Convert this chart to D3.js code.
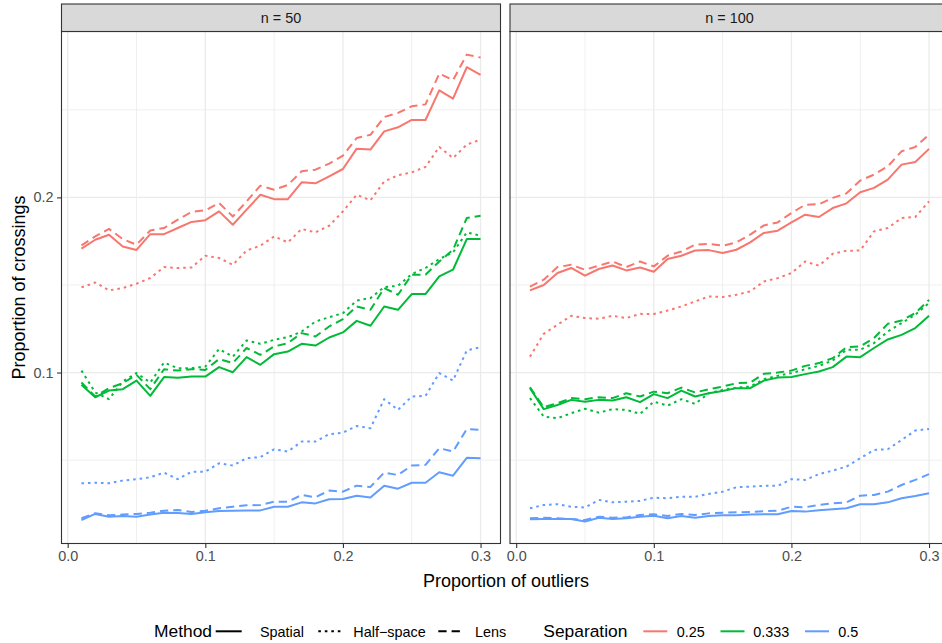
<!DOCTYPE html>
<html>
<head>
<meta charset="utf-8">
<script src="https://cdn.jsdelivr.net/npm/d3@7"></script>
<style>
  html, body { margin: 0; padding: 0; background: #ffffff; }
  svg { display: block; font-family: "Liberation Sans", Arial, Helvetica, sans-serif; }
</style>
</head>
<body>
<svg id="chart" width="942" height="643"></svg>
<script>
// ---------------- DATA ----------------
const proportionOutliers = [0.01,0.02,0.03,0.04,0.05,0.06,0.07,0.08,0.09,0.10,0.11,0.12,0.13,0.14,0.15,0.16,0.17,0.18,0.19,0.20,0.21,0.22,0.23,0.24,0.25,0.26,0.27,0.28,0.29,0.30];
const panels = ["n = 50", "n = 100"];
const methods = ["Spatial", "Half\u2212space", "Lens"];
const separations = ["0.25", "0.333", "0.5"];
const xTicks = [0.0, 0.1, 0.2, 0.3];
const xTickLabels = ["0.0", "0.1", "0.2", "0.3"];
const yTicks = [0.1, 0.2];
const yTickLabels = ["0.1", "0.2"];

// n = 50
const n50_sep025_spatial = [0.1707,0.1758,0.1787,0.172,0.170,0.179,0.179,0.1825,0.186,0.187,0.192,0.1844,0.193,0.2015,0.199,0.199,0.2086,0.208,0.212,0.2162,0.2278,0.2273,0.2377,0.240,0.2442,0.2442,0.2611,0.2564,0.2743,0.270];
const n50_sep025_half    = [0.1486,0.1514,0.1469,0.1482,0.1507,0.154,0.1602,0.1597,0.160,0.1667,0.1654,0.1615,0.1697,0.1724,0.1777,0.1743,0.182,0.180,0.1838,0.192,0.2015,0.1983,0.2091,0.2126,0.2143,0.2174,0.2288,0.2225,0.2301,0.233];
const n50_sep025_lens    = [0.1726,0.1777,0.182,0.1762,0.173,0.1811,0.1825,0.1873,0.1917,0.1926,0.1968,0.1891,0.1977,0.2067,0.2044,0.2071,0.2149,0.2158,0.2193,0.2238,0.2339,0.2357,0.2459,0.2482,0.252,0.2531,0.2707,0.2669,0.2815,0.2798];
const n50_sep0333_spatial = [0.093,0.0859,0.0897,0.0905,0.0954,0.0867,0.0974,0.097,0.0977,0.0977,0.1031,0.1002,0.1088,0.1044,0.1105,0.112,0.1164,0.1154,0.12,0.1229,0.1295,0.1267,0.1377,0.1358,0.1448,0.1448,0.1549,0.1587,0.1762,0.1762];
const n50_sep0333_half    = [0.1011,0.0886,0.0848,0.0949,0.0997,0.0943,0.1057,0.1025,0.1025,0.1034,0.1134,0.1091,0.1183,0.1164,0.1187,0.1202,0.1234,0.1291,0.1316,0.1339,0.1411,0.1425,0.1488,0.1495,0.1562,0.1597,0.1648,0.1686,0.18,0.1781];
const n50_sep0333_lens    = [0.0943,0.0863,0.0911,0.0939,0.0987,0.0905,0.1019,0.1011,0.1019,0.1015,0.1077,0.1054,0.114,0.1101,0.1149,0.1168,0.1225,0.1206,0.1263,0.1305,0.1377,0.1358,0.1482,0.1444,0.1558,0.1558,0.1634,0.1701,0.1882,0.1895];
const n50_sep05_spatial = [0.0158,0.0193,0.0177,0.0181,0.0177,0.0189,0.02,0.0198,0.0193,0.0202,0.021,0.0211,0.0213,0.0213,0.0234,0.0234,0.0259,0.0253,0.0277,0.0278,0.0297,0.0286,0.0354,0.0337,0.0371,0.0371,0.0431,0.0411,0.0513,0.0511];
const n50_sep05_half    = [0.0368,0.0371,0.0368,0.0383,0.0391,0.0402,0.0429,0.0391,0.0434,0.0434,0.0482,0.0469,0.0511,0.0517,0.0562,0.0549,0.0606,0.0606,0.0648,0.0657,0.0695,0.0682,0.0848,0.0787,0.0863,0.0867,0.0997,0.0954,0.1126,0.1145];
const n50_sep05_lens    = [0.0168,0.0197,0.0185,0.0189,0.0193,0.02,0.0211,0.0215,0.0204,0.0211,0.0225,0.0234,0.0242,0.0244,0.0263,0.0263,0.0301,0.0288,0.0326,0.032,0.0354,0.0347,0.0429,0.0415,0.0469,0.0473,0.0568,0.0549,0.0677,0.0673];

// n = 100
const n100_sep025_spatial = [0.1469,0.15,0.1568,0.1597,0.1553,0.1591,0.1611,0.1583,0.16,0.1575,0.1648,0.1667,0.1697,0.1699,0.1682,0.1701,0.1743,0.1797,0.181,0.1857,0.1901,0.1888,0.1939,0.1966,0.2029,0.2054,0.2101,0.2187,0.2202,0.2277];
const n100_sep025_half    = [0.109,0.1221,0.1273,0.1324,0.1311,0.1307,0.1324,0.1311,0.1335,0.1334,0.1354,0.1377,0.1406,0.1434,0.1431,0.1444,0.1463,0.152,0.1539,0.1568,0.1634,0.161,0.1678,0.1695,0.1697,0.1806,0.1825,0.1882,0.1888,0.1977];
const n100_sep025_lens    = [0.1491,0.153,0.1602,0.1615,0.1587,0.161,0.1634,0.1602,0.1634,0.1606,0.1667,0.1691,0.173,0.1735,0.1724,0.1743,0.1787,0.184,0.1857,0.1911,0.1958,0.1961,0.1997,0.2023,0.2096,0.213,0.2177,0.2263,0.2288,0.2358];
const n100_sep0333_spatial = [0.0911,0.0791,0.0815,0.0844,0.0833,0.0844,0.084,0.0859,0.0831,0.0877,0.0854,0.0897,0.0863,0.0882,0.0895,0.0911,0.0911,0.0954,0.0971,0.0974,0.0991,0.1006,0.1031,0.1091,0.1088,0.114,0.1189,0.1215,0.1254,0.1324];
const n100_sep0333_half    = [0.0854,0.0749,0.0739,0.0768,0.0793,0.0771,0.0791,0.0787,0.0764,0.0834,0.0811,0.0848,0.0821,0.0882,0.0901,0.0914,0.092,0.0962,0.0981,0.0997,0.1019,0.1038,0.1069,0.113,0.113,0.1168,0.1234,0.1282,0.133,0.1397];
const n100_sep0333_lens    = [0.0916,0.0802,0.0825,0.0854,0.0848,0.0859,0.0854,0.0882,0.0863,0.0891,0.0882,0.0914,0.0886,0.0905,0.092,0.0939,0.0943,0.0993,0.1,0.1011,0.1038,0.1054,0.1082,0.1145,0.1149,0.1197,0.1278,0.1297,0.1339,0.1415];
const n100_sep05_spatial = [0.0162,0.0164,0.0164,0.0164,0.0149,0.0171,0.0164,0.0168,0.0177,0.0183,0.0168,0.0181,0.0171,0.0181,0.0185,0.0185,0.0189,0.0191,0.0191,0.021,0.0206,0.0214,0.0219,0.0225,0.0248,0.0248,0.0259,0.0282,0.0295,0.0311];
const n100_sep05_half    = [0.0225,0.0244,0.0248,0.0234,0.0229,0.0273,0.0259,0.0263,0.0267,0.0286,0.0282,0.0291,0.0291,0.0307,0.032,0.0345,0.0349,0.0353,0.0353,0.0391,0.0387,0.042,0.044,0.0463,0.0511,0.0558,0.0562,0.0615,0.0669,0.0678];
const n100_sep05_lens    = [0.0168,0.0171,0.0168,0.0164,0.0158,0.0177,0.0171,0.0173,0.0187,0.0191,0.0181,0.0193,0.0187,0.0196,0.02,0.0202,0.0204,0.0208,0.0211,0.0234,0.0231,0.0244,0.0253,0.0259,0.0297,0.0301,0.032,0.0358,0.0387,0.042];

// table built from the arrays: [panel][separation][method]
const seriesTable = [
  [[n50_sep025_spatial, n50_sep025_half, n50_sep025_lens],
   [n50_sep0333_spatial, n50_sep0333_half, n50_sep0333_lens],
   [n50_sep05_spatial, n50_sep05_half, n50_sep05_lens]],
  [[n100_sep025_spatial, n100_sep025_half, n100_sep025_lens],
   [n100_sep0333_spatial, n100_sep0333_half, n100_sep0333_lens],
   [n100_sep05_spatial, n100_sep05_half, n100_sep05_lens]]
];

// ---------------- STYLE / LAYOUT ----------------
const sepColors = ["#F8766D", "#00BA38", "#619CFF"];
const methodDash = ["none", "2.6,3.9", "8.3,5"];
const lineW = 2.0;
const panelTop = 31.5, panelBottom = 543.5;
const panelX = [[61.5, 500.5], [510, 949]];
const stripTop = 4;
const xDomain = [-0.0045, 0.3145];
const yDomain = [0.0024, 0.2947];
const xMinor = [0.05, 0.15, 0.25];
const yMinor = [0.05, 0.15, 0.25];
const tickFont = 14.4, titleFont = 18, legendTitleFont = 17.4, legendLabelFont = 14.4;

const svg = d3.select("#chart");
const y = d3.scaleLinear().domain(yDomain).range([panelBottom, panelTop]);

panels.forEach((pname, pi) => {
  const [x0, x1] = panelX[pi];
  const x = d3.scaleLinear().domain(xDomain).range([x0, x1]);
  const g = svg.append("g");

  g.append("rect").attr("x", x0).attr("y", panelTop).attr("width", x1 - x0).attr("height", panelBottom - panelTop).attr("fill", "#ffffff");

  xMinor.forEach(v => g.append("line").attr("x1", x(v)).attr("x2", x(v)).attr("y1", panelTop).attr("y2", panelBottom)
    .attr("stroke", "#ebebeb").attr("stroke-width", 0.75));
  yMinor.forEach(v => g.append("line").attr("x1", x0).attr("x2", x1).attr("y1", y(v)).attr("y2", y(v))
    .attr("stroke", "#ebebeb").attr("stroke-width", 0.75));
  xTicks.forEach(v => g.append("line").attr("x1", x(v)).attr("x2", x(v)).attr("y1", panelTop).attr("y2", panelBottom)
    .attr("stroke", "#ebebeb").attr("stroke-width", 1.3));
  yTicks.forEach(v => g.append("line").attr("x1", x0).attr("x2", x1).attr("y1", y(v)).attr("y2", y(v))
    .attr("stroke", "#ebebeb").attr("stroke-width", 1.3));

  const line = d3.line().x((d, i) => x(proportionOutliers[i])).y(d => y(d));
  separations.forEach((s, si) => {
    methods.forEach((m, mi) => {
      g.append("path").datum(seriesTable[pi][si][mi])
        .attr("d", line)
        .attr("fill", "none")
        .attr("stroke", sepColors[si])
        .attr("stroke-width", lineW)
        .attr("stroke-dasharray", methodDash[mi])
        .attr("stroke-linejoin", "round");
    });
  });

  g.append("rect").attr("x", x0).attr("y", panelTop).attr("width", x1 - x0).attr("height", panelBottom - panelTop)
    .attr("fill", "none").attr("stroke", "#333333").attr("stroke-width", 1.1);

  g.append("rect").attr("x", x0).attr("y", stripTop).attr("width", x1 - x0).attr("height", panelTop - stripTop)
    .attr("fill", "#d9d9d9").attr("stroke", "#333333").attr("stroke-width", 1.1);
  g.append("text").attr("x", (x0 + x1) / 2).attr("y", (stripTop + panelTop) / 2)
    .attr("text-anchor", "middle").attr("dominant-baseline", "central")
    .attr("font-size", tickFont).attr("fill", "#1a1a1a").text(pname);

  const xAxis = d3.axisBottom(x).tickValues(xTicks).tickFormat((d, i) => xTickLabels[i]).tickSize(4.5).tickPadding(3);
  const ax = g.append("g").attr("transform", `translate(0,${panelBottom})`).call(xAxis);
  ax.select(".domain").remove();
  ax.selectAll(".tick line").attr("stroke", "#333333").attr("stroke-width", 1.1);
  ax.selectAll(".tick text").attr("font-size", tickFont).attr("fill", "#4d4d4d").attr("font-family", "Liberation Sans, Arial, sans-serif");

  if (pi === 0) {
    const yAxis = d3.axisLeft(y).tickValues(yTicks).tickFormat((d, i) => yTickLabels[i]).tickSize(4.5).tickPadding(3.5);
    const ay = g.append("g").attr("transform", `translate(${x0},0)`).call(yAxis);
    ay.select(".domain").remove();
    ay.selectAll(".tick line").attr("stroke", "#333333").attr("stroke-width", 1.1);
    ay.selectAll(".tick text").attr("font-size", tickFont).attr("fill", "#4d4d4d").attr("font-family", "Liberation Sans, Arial, sans-serif");
  }
});

svg.append("text").attr("x", 506).attr("y", 587).attr("text-anchor", "middle")
  .attr("font-size", titleFont).attr("fill", "#000000").text("Proportion of outliers");
svg.append("text").attr("transform", `translate(25,${(panelTop + panelBottom) / 2}) rotate(-90)`)
  .attr("text-anchor", "middle").attr("font-size", titleFont).attr("fill", "#000000").text("Proportion of crossings");

const legY = 631.3;
const legBase = 637.3;
const lg = svg.append("g");
lg.append("text").attr("x", 154).attr("y", legBase).attr("font-size", legendTitleFont).text("Method");
const methodKeyX = [215.7, 318.3, 438.3];
const methodLabelX = [260, 353.3, 475];
methods.forEach((m, i) => {
  lg.append("line").attr("x1", methodKeyX[i]).attr("x2", methodKeyX[i] + 26).attr("y1", legY).attr("y2", legY)
    .attr("stroke", "#000000").attr("stroke-width", lineW).attr("stroke-dasharray", methodDash[i]);
  lg.append("text").attr("x", methodLabelX[i]).attr("y", legBase - 0.5).attr("font-size", legendLabelFont).text(m);
});
lg.append("text").attr("x", 543.3).attr("y", legBase).attr("font-size", legendTitleFont).text("Separation");
const sepKeyX = [643.3, 720.5, 805];
const sepLabelX = [676.7, 753.3, 838.3];
separations.forEach((s, i) => {
  lg.append("line").attr("x1", sepKeyX[i]).attr("x2", sepKeyX[i] + 24).attr("y1", legY).attr("y2", legY)
    .attr("stroke", sepColors[i]).attr("stroke-width", lineW);
  lg.append("text").attr("x", sepLabelX[i]).attr("y", legBase - 0.5).attr("font-size", legendLabelFont).text(s);
});
</script>
</body>
</html>
